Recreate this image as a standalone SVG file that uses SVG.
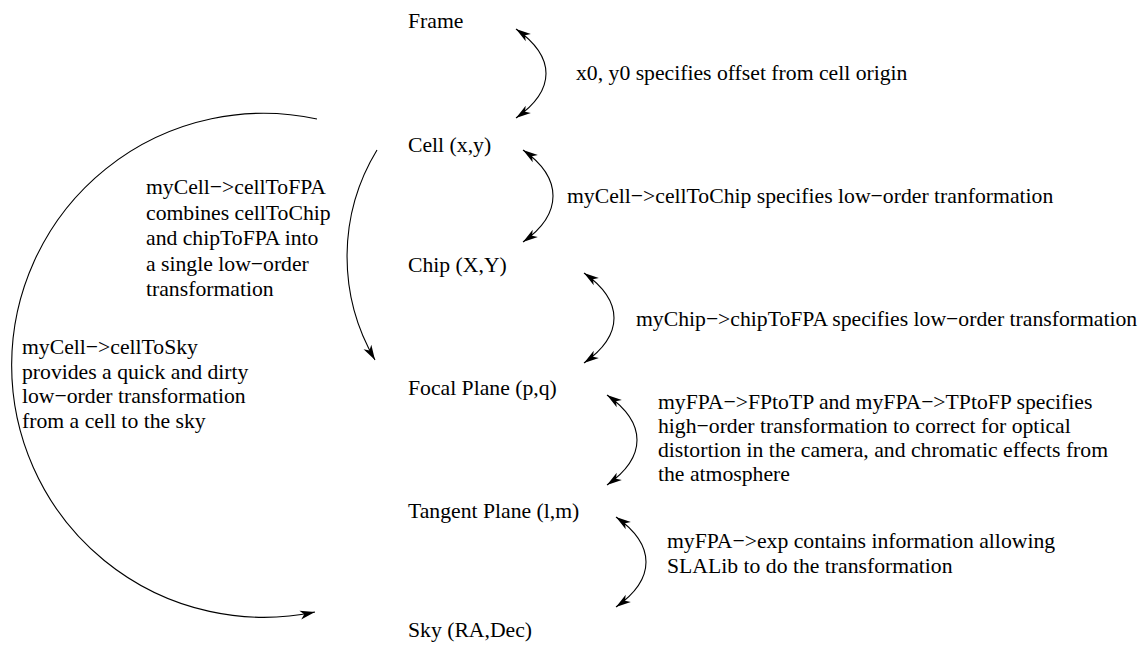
<svg xmlns="http://www.w3.org/2000/svg" width="1141" height="648" viewBox="0 0 1141 648">
<style>
text { font-family: "Liberation Serif", "Times New Roman", serif; font-size: 21.7px; fill: #000; }
.c { fill: none; stroke: #000; stroke-width: 1.1; }
</style>
<defs>
<marker id="ah" markerUnits="userSpaceOnUse" markerWidth="17" markerHeight="12" viewBox="-16 -6 17 12" refX="0" refY="0" orient="auto-start-reverse">
<path d="M0,0 L-15,-4.5 L-11,0 L-15,4.5 Z" fill="#000"/>
</marker>
</defs>
<rect width="1141" height="648" fill="#fff"/>
<g id="connectors">
<path class="c" d="M516,29 C556,57 556,90 516,118" marker-start="url(#ah)" marker-end="url(#ah)"/>
<path class="c" d="M523,150 C563,178 563,214 523,242" marker-start="url(#ah)" marker-end="url(#ah)"/>
<path class="c" d="M584,273 C624,301 624,335 584,363" marker-start="url(#ah)" marker-end="url(#ah)"/>
<path class="c" d="M607,395 C647,423 647,457 607,485" marker-start="url(#ah)" marker-end="url(#ah)"/>
<path class="c" d="M616,517 C656,545 656,579 616,607" marker-start="url(#ah)" marker-end="url(#ah)"/>
<path class="c" d="M377,150 A205,205 0 0 0 375,360" marker-end="url(#ah)"/>
<path class="c" d="M317,119 A252,252 0 1 0 315,612" marker-end="url(#ah)"/>
</g>
<g id="frame"><text x="408" y="28">Frame</text></g>
<g id="cell"><text x="408" y="152">Cell (x,y)</text></g>
<g id="chip"><text x="408" y="272">Chip (X,Y)</text></g>
<g id="focal-plane"><text x="408" y="395">Focal Plane (p,q)</text></g>
<g id="tangent-plane"><text x="408" y="518">Tangent Plane (l,m)</text></g>
<g id="sky"><text x="408" y="637">Sky (RA,Dec)</text></g>
<g id="labels">
<text x="576" y="80">x0, y0 specifies offset from cell origin</text>
<text x="567" y="203">myCell−&gt;cellToChip specifies low−order tranformation</text>
<text x="636" y="326">myChip−&gt;chipToFPA specifies low−order transformation</text>
<text x="658"><tspan x="658" y="409">myFPA−&gt;FPtoTP and myFPA−&gt;TPtoFP specifies</tspan><tspan x="658" y="433">high−order transformation to correct for optical</tspan><tspan x="658" y="457">distortion in the camera, and chromatic effects from</tspan><tspan x="658" y="481">the atmosphere</tspan></text>
<text x="667"><tspan x="667" y="548">myFPA−&gt;exp contains information allowing</tspan><tspan x="667" y="572.5">SLALib to do the transformation</tspan></text>
<text x="146"><tspan x="146" y="194">myCell−&gt;cellToFPA</tspan><tspan x="146" y="219.5">combines cellToChip</tspan><tspan x="146" y="245">and chipToFPA into</tspan><tspan x="146" y="270.5">a single low−order</tspan><tspan x="146" y="296">transformation</tspan></text>
<text x="22"><tspan x="22" y="354">myCell−&gt;cellToSky</tspan><tspan x="22" y="378.5">provides a quick and dirty</tspan><tspan x="22" y="403">low−order transformation</tspan><tspan x="22" y="427.5">from a cell to the sky</tspan></text>
</g>
</svg>
